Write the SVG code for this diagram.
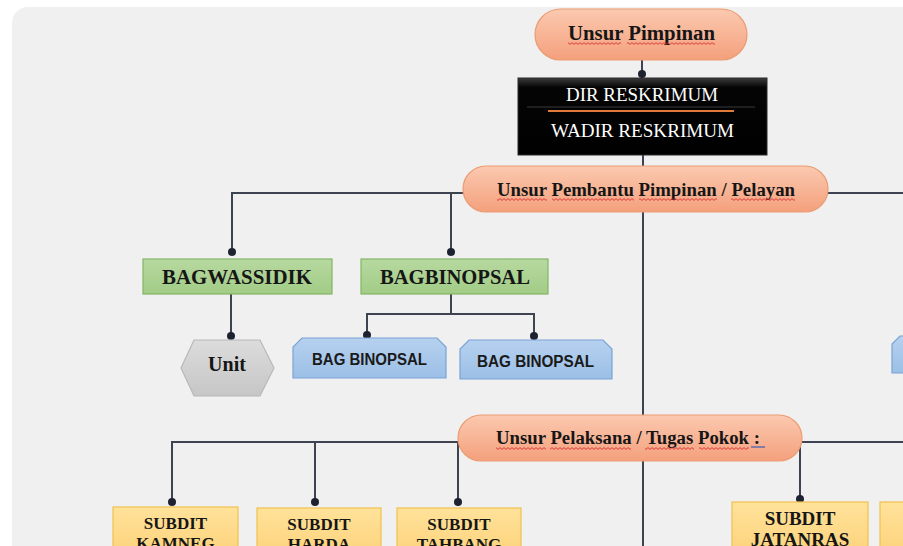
<svg xmlns="http://www.w3.org/2000/svg" width="903" height="546" viewBox="0 0 903 546">
  <defs>
    <linearGradient id="salmon" x1="0" y1="0" x2="0" y2="1">
      <stop offset="0" stop-color="#fbc9b0"/>
      <stop offset="1" stop-color="#f4a07c"/>
    </linearGradient>
    <linearGradient id="black" x1="0" y1="0" x2="0" y2="1">
      <stop offset="0" stop-color="#3c3c3c"/>
      <stop offset="0.12" stop-color="#050505"/>
      <stop offset="1" stop-color="#000000"/>
    </linearGradient>
    <linearGradient id="green" x1="0" y1="0" x2="0" y2="1">
      <stop offset="0" stop-color="#b7d9a0"/>
      <stop offset="1" stop-color="#a2cc86"/>
    </linearGradient>
    <linearGradient id="blue" x1="0" y1="0" x2="0" y2="1">
      <stop offset="0" stop-color="#b7d1ef"/>
      <stop offset="1" stop-color="#9bbfe6"/>
    </linearGradient>
    <linearGradient id="gray" x1="0" y1="0" x2="0" y2="1">
      <stop offset="0" stop-color="#dcdcdc"/>
      <stop offset="1" stop-color="#c6c6c6"/>
    </linearGradient>
    <linearGradient id="yellow" x1="0" y1="0" x2="0" y2="1">
      <stop offset="0" stop-color="#ffe29a"/>
      <stop offset="1" stop-color="#fdd27a"/>
    </linearGradient>
    <pattern id="wave" x="0" y="0" width="4" height="3" patternUnits="userSpaceOnUse">
      <path d="M0 0.6 L2 2.4 L4 0.6" fill="none" stroke="#d92b2b" stroke-width="0.9"/>
    </pattern>
  </defs>
  <style>
    .ln{fill:none;stroke:#3d4350;stroke-width:2}
    .dot{fill:#1c2230}
    .pill{fill:url(#salmon);stroke:#eb9c72;stroke-width:1.2}
    .green{fill:url(#green);stroke:#84b565;stroke-width:1.2}
    .blue{fill:url(#blue);stroke:#7aa3d4;stroke-width:1.2}
    .yellow{fill:url(#yellow);stroke:#f0c14e;stroke-width:1.2}
    .hex{fill:url(#gray);stroke:#b8b8b8;stroke-width:1.2}
    .ser{font-family:"Liberation Serif","Times New Roman",serif;font-weight:bold;fill:#161616}
    .wht{font-family:"Liberation Serif","Times New Roman",serif;fill:#ffffff;font-size:19px}
    .sans{font-family:"Liberation Sans",Arial,sans-serif;font-weight:bold;fill:#1a1a1a;font-size:16px}
    .wv{fill:url(#wave)}
  </style>

  <rect x="0" y="0" width="903" height="546" fill="#ffffff"/>
  <rect x="12" y="7" width="920" height="570" rx="16" fill="#f0f0f0"/>

  <g id="connectors">
    <path class="ln" d="M642 60 V78"/>
    <path class="ln" d="M643 155 V166"/>
    <path class="ln" d="M232 252 V193 H903"/>
    <path class="ln" d="M451 193 V252"/>
    <path class="ln" d="M643 212 V415"/>
    <path class="ln" d="M643 461 V546"/>
    <path class="ln" d="M231 294 V336"/>
    <path class="ln" d="M451 294 V314"/>
    <path class="ln" d="M367 335 V314 H534 V336"/>
    <path class="ln" d="M172 502 V442 H903"/>
    <path class="ln" d="M315 442 V502"/>
    <path class="ln" d="M458 442 V502"/>
    <path class="ln" d="M800 442 V499"/>
    <circle class="dot" cx="642" cy="74" r="4"/>
    <circle class="dot" cx="232" cy="252" r="4"/>
    <circle class="dot" cx="451" cy="252" r="4"/>
    <circle class="dot" cx="231" cy="336" r="4"/>
    <circle class="dot" cx="367" cy="335" r="4"/>
    <circle class="dot" cx="534" cy="336" r="4"/>
    <circle class="dot" cx="172" cy="502" r="4"/>
    <circle class="dot" cx="315" cy="502" r="4"/>
    <circle class="dot" cx="458" cy="502" r="4"/>
    <circle class="dot" cx="800" cy="499" r="4"/>
  </g>

  <g id="unsur-pimpinan">
    <rect class="pill" x="535" y="9" width="212" height="51" rx="25.5"/>
    <text class="ser" x="568" y="40" font-size="20" textLength="147" lengthAdjust="spacingAndGlyphs">Unsur Pimpinan</text>
    <rect class="wv" x="568" y="42" width="53" height="3"/>
    <rect class="wv" x="627" y="42" width="88" height="3"/>
  </g>

  <g id="dir-reskrimum">
    <rect x="518" y="78" width="249" height="77" fill="url(#black)" stroke="#2a2a2a" stroke-width="1"/>
    <line x1="527" y1="107" x2="755" y2="107" stroke="#3a3a3a" stroke-width="1"/>
    <line x1="548" y1="111" x2="734" y2="111" stroke="#e07b3c" stroke-width="2"/>
    <text class="wht" x="566" y="101" textLength="152" lengthAdjust="spacingAndGlyphs">DIR RESKRIMUM</text>
    <text class="wht" x="551" y="137" textLength="183" lengthAdjust="spacingAndGlyphs">WADIR RESKRIMUM</text>
  </g>

  <g id="unsur-pembantu">
    <rect class="pill" x="463" y="166" width="365" height="46" rx="23"/>
    <text class="ser" x="497" y="196" font-size="19" textLength="298" lengthAdjust="spacingAndGlyphs">Unsur Pembantu Pimpinan / Pelayan</text>
    <rect class="wv" x="497" y="198" width="50" height="3"/>
    <rect class="wv" x="552" y="198" width="82" height="3"/>
    <rect class="wv" x="639" y="198" width="78" height="3"/>
    <rect class="wv" x="731" y="198" width="64" height="3"/>
  </g>

  <g id="bagwassidik">
    <rect class="green" x="143" y="259" width="189" height="35"/>
    <text class="ser" x="162" y="284" font-size="20" textLength="150" lengthAdjust="spacingAndGlyphs">BAGWASSIDIK</text>
  </g>

  <g id="bagbinopsal">
    <rect class="green" x="361" y="259" width="187" height="35"/>
    <text class="ser" x="380" y="284" font-size="20" textLength="150" lengthAdjust="spacingAndGlyphs">BAGBINOPSAL</text>
  </g>

  <g id="unit">
    <polygon class="hex" points="181,368 194,340 260,340 274,368 260,396 194,396"/>
    <text class="ser" x="227" y="371" font-size="20" text-anchor="middle">Unit</text>
  </g>

  <g id="bag-binopsal-1">
    <path class="blue" d="M293 378 V347 L302 338 H437 L446 347 V378 Z"/>
    <text class="sans" x="312" y="365" textLength="115" lengthAdjust="spacingAndGlyphs">BAG BINOPSAL</text>
  </g>

  <g id="bag-binopsal-2">
    <path class="blue" d="M460 379 V349 L469 340 H603 L612 349 V379 Z"/>
    <text class="sans" x="477" y="367" textLength="117" lengthAdjust="spacingAndGlyphs">BAG BINOPSAL</text>
  </g>

  <g id="blue-partial">
    <path class="blue" d="M892 373 V344 L900 336 H906 V373 Z"/>
  </g>

  <g id="unsur-pelaksana">
    <rect class="pill" x="458" y="415" width="344" height="46" rx="23"/>
    <text class="ser" x="496" y="444" font-size="18.6" textLength="264" lengthAdjust="spacingAndGlyphs">Unsur Pelaksana / Tugas Pokok :</text>
    <rect class="wv" x="496" y="447" width="50" height="3"/>
    <rect class="wv" x="550" y="447" width="81" height="3"/>
    <rect class="wv" x="645" y="447" width="49" height="3"/>
    <rect class="wv" x="699" y="447" width="50" height="3"/>
    <line x1="751" y1="447" x2="765" y2="447" stroke="#3b5bb5" stroke-width="1.2"/>
  </g>

  <g id="subdit-kamneg">
    <rect class="yellow" x="113" y="507" width="125" height="50"/>
    <text class="ser" x="175.5" y="529" font-size="17" text-anchor="middle">SUBDIT</text>
    <text class="ser" x="175.5" y="549" font-size="17" text-anchor="middle">KAMNEG</text>
  </g>

  <g id="subdit-harda">
    <rect class="yellow" x="257" y="508" width="124" height="50"/>
    <text class="ser" x="319" y="530" font-size="17" text-anchor="middle">SUBDIT</text>
    <text class="ser" x="319" y="550" font-size="17" text-anchor="middle">HARDA</text>
  </g>

  <g id="subdit-tahbang">
    <rect class="yellow" x="397" y="508" width="124" height="50"/>
    <text class="ser" x="459" y="530" font-size="17" text-anchor="middle">SUBDIT</text>
    <text class="ser" x="459" y="550" font-size="17" text-anchor="middle">TAHBANG</text>
  </g>

  <g id="subdit-jatanras">
    <rect class="yellow" x="732" y="502" width="136" height="55"/>
    <text class="ser" x="800" y="525" font-size="19" text-anchor="middle">SUBDIT</text>
    <text class="ser" x="800" y="546" font-size="19" text-anchor="middle">JATANRAS</text>
  </g>

  <g id="yellow-partial">
    <rect class="yellow" x="880" y="502" width="40" height="55"/>
  </g>
</svg>
